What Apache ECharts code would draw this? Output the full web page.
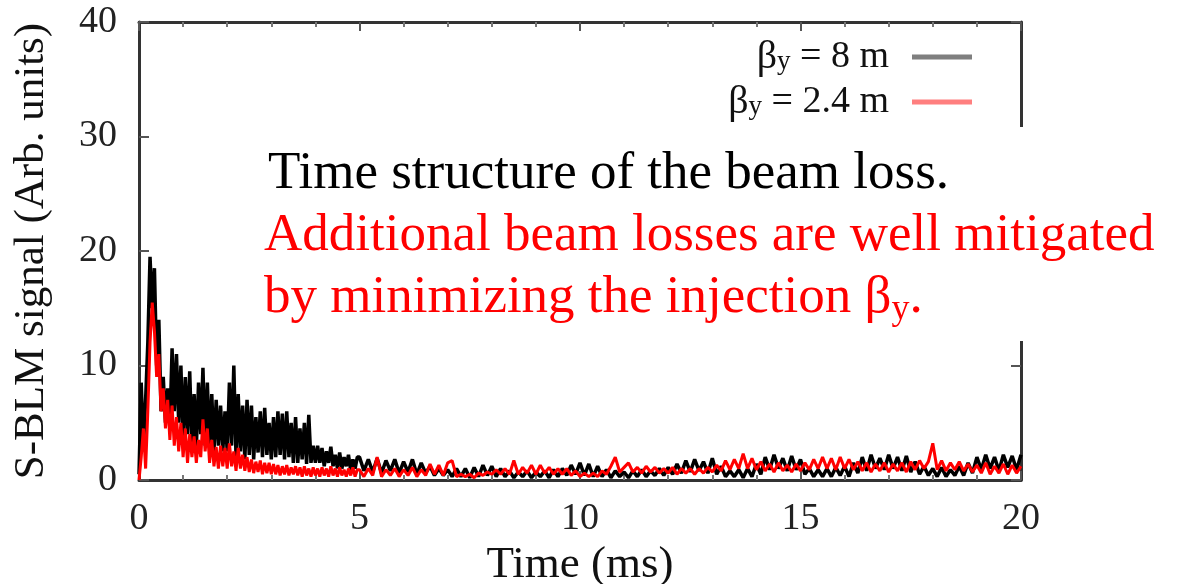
<!DOCTYPE html>
<html><head><meta charset="utf-8">
<script src="https://cdn.jsdelivr.net/npm/echarts@6/dist/echarts.min.js"></script>
<style>html,body{margin:0;padding:0;background:#fff}#c{width:1185px;height:584px}</style>
</head><body><div id="c"></div>
<script>
// ---- data ----
const earlyStep = 0.05;   // ms, samples at 0, 0.05, ... 4.95
const lateStart = 5.0;    // ms
const lateStep = 0.1;     // ms, samples at 5.0, 5.1, ... 20.0

const black8mEarly = [
 0.5,8.5,3,7,12,19.5,15,18.5,10,14,
 6,9,5,8,4.5,11.5,6,11,5,10,
 3.5,9,4,9.5,3,7.5,2.8,8.5,4,9.8,
 3,8.5,2.8,7.5,2.5,7,3,6.5,2.5,6,
 2.5,8.5,3,10,2,7.5,2.5,6.5,1.8,7,
 2.2,6.5,1.8,5.5,2.4,6,2,6.3,2.2,5,
 1.8,5.5,2,6,2.2,5.8,1.8,6,2,5,
 1.5,5.5,1.5,4.5,1.8,5,1.4,5.7,1.5,3,
 1.5,3,1.5,2.8,1.2,2.5,1.5,2.9,1.2,2.2,
 1,2.4,1,2,1.2,2.2,0.8,1.8,1,2
];
const red24mEarly = [
 0,2,4.5,1,6,12,15.5,13,9,11,
 6,8,4.5,7,3.5,6.5,3,5.5,2.5,5,
 2,4.5,1.5,4,2,3.8,1.5,3.5,2,5.3,
 2.5,4.5,1.5,3.5,1.2,2.9,1,3,1.2,2.8,
 1,3.2,1.2,2.5,0.8,2.8,1,2.2,0.8,2,
 0.7,1.8,0.6,1.6,0.7,1.7,0.5,1.5,0.6,1.5,
 0.5,1.4,0.5,1.3,0.4,1.2,0.5,1.3,0.4,1.1,
 0.5,1.2,0.4,1.1,0.3,1.2,0.4,1,0.3,1.1,
 0.4,1,0.3,1.1,0.4,1,0.3,1.2,0.4,1,
 0.3,1.1,0.4,0.9,0.3,1,0.4,1.1,0.3,0.9
];
const black8mLate = [
 2.0,0.8,1.8,0.7,1.9,0.6,1.7,0.8,1.8,0.6,
 1.6,0.7,1.8,0.5,1.5,0.6,1.2,0.4,1.0,0.4,
 0.9,0.3,1.0,0.3,1.0,0.2,1.1,0.3,1.3,0.4,
 1.2,0.3,1.0,0.3,0.8,0.2,0.7,0.3,0.8,0.2,
 0.7,0.3,0.8,0.2,0.9,0.3,1.0,0.4,1.3,0.5,
 1.5,0.4,1.4,0.3,1.2,0.3,0.9,0.2,0.8,0.3,
 0.7,0.2,0.8,0.3,0.9,0.3,0.8,0.4,1.0,0.4,
 1.1,0.5,1.4,0.6,1.7,0.7,1.8,0.8,1.6,0.6,
 1.9,0.5,1.2,0.3,0.8,0.3,0.9,0.2,1.0,0.3,
 1.4,0.5,2.0,0.9,2.2,1.0,1.9,0.8,2.1,0.9,
 1.8,0.5,1.0,0.3,0.9,0.3,1.0,0.3,1.1,0.4,
 1.2,0.3,1.5,0.6,2.0,0.8,2.2,1.0,1.9,0.9,
 2.2,1.0,2.0,0.8,2.1,0.7,1.6,0.5,1.2,0.4,
 1.0,0.3,1.1,0.3,0.9,0.4,1.2,0.4,1.5,0.6,
 2.0,0.9,2.2,1.0,2.0,0.8,2.2,1.1,2.1,0.9,
 2.2
];
const red24mLate = [
 0.9,0.3,1.0,0.4,2.0,0.3,0.9,0.4,1.0,0.3,
 0.9,0.4,1.1,0.3,0.9,0.4,1.4,0.5,1.3,0.4,
 1.5,1.7,0.3,0.5,0.3,0.5,0.2,0.6,0.4,0.7,
 0.5,0.9,0.5,1.0,0.5,1.7,0.5,1.1,0.6,1.3,
 0.5,1.3,0.6,1.1,0.5,1.0,0.5,1.0,0.4,0.8,
 0.3,0.6,0.3,0.6,0.3,0.8,0.5,1.2,2.0,0.7,
 1.1,1.5,0.7,1.1,0.6,1.2,0.7,1.1,0.6,1.0,
 0.6,1.1,0.5,1.0,0.6,1.0,0.5,1.0,0.6,1.1,
 0.7,1.3,0.8,1.7,0.9,1.8,1.0,2.3,1.0,1.9,
 0.9,1.6,0.8,1.4,0.7,1.5,0.8,1.3,0.7,1.4,
 0.8,1.5,0.9,1.8,1.0,2.0,1.0,1.9,0.9,2.0,
 1.0,1.8,0.9,1.6,0.8,1.5,0.7,1.4,0.8,1.5,
 0.7,1.4,0.8,1.5,0.7,1.6,0.9,1.7,1.0,1.6,
 3.2,0.9,1.7,0.8,1.5,0.9,1.6,0.8,1.4,0.7,
 1.3,0.6,1.5,0.5,1.2,0.6,1.4,0.5,1.3,0.6,
 1.2
];
const xTicks = [0, 5, 10, 15, 20];
const yTicks = [0, 10, 20, 30, 40];
const seriesNames = ['βy = 8 m', 'βy = 2.4 m'];
const legendValues = ['8 m', '2.4 m'];
const seriesColors = ['#000000', '#ff0000'];
const legendColors = ['#7f7f7f', '#ff7f7f'];
const xTitle = 'Time (ms)';
const yTitle = 'S-BLM signal (Arb. units)';
const noteLine1 = 'Time structure of the beam loss.';
const noteLine2 = 'Additional beam losses are well mitigated';
const noteLine3 = 'by minimizing the injection β';

// ---- build series data ----
function toPairs(early, late) {
  const out = [];
  early.forEach((v, i) => out.push([+(i * earlyStep).toFixed(3), v]));
  late.forEach((v, i) => out.push([+(lateStart + i * lateStep).toFixed(3), v]));
  return out;
}
const blackData = toPairs(black8mEarly, black8mLate);
const redData = toPairs(red24mEarly, red24mLate);

const SERIF = '"Liberation Serif", "DejaVu Serif", serif';
const axisCol = '#333333';
const labelStyle = { fontFamily: SERIF, fontSize: 38, color: '#222' };

const chart = echarts.init(document.getElementById('c'), null, { renderer: 'canvas' });
const baseX = {
  type: 'value', min: xTicks[0], max: xTicks[xTicks.length - 1], interval: 5,
  splitLine: { show: false },
  axisLine: { show: true, onZero: false, lineStyle: { color: axisCol, width: 3 } },
  axisTick: { show: true, inside: true, length: 9, lineStyle: { color: '#555', width: 2 } },
  minorTick: { show: true, splitNumber: 5, length: 5, lineStyle: { color: '#777', width: 2 } }
};
const baseY = {
  type: 'value', min: yTicks[0], max: yTicks[yTicks.length - 1], interval: 10,
  splitLine: { show: false },
  axisLine: { show: true, onZero: false, lineStyle: { color: axisCol, width: 3 } },
  axisTick: { show: true, inside: true, length: 10, lineStyle: { color: '#555', width: 2 } }
};

chart.setOption({
  animation: false,
  backgroundColor: '#ffffff',
  grid: { left: 139, right: 164, top: 22, bottom: 104, containLabel: false, outerBoundsMode: 'none' },
  xAxis: [
    Object.assign({}, baseX, {
      position: 'bottom',
      axisLabel: Object.assign({ margin: 20 }, labelStyle),
      name: xTitle, nameLocation: 'middle', nameGap: 62,
      nameTextStyle: { fontFamily: SERIF, fontSize: 45, color: '#111' }
    }),
    Object.assign({}, baseX, { position: 'top', axisLabel: { show: false } })
  ],
  yAxis: [
    Object.assign({}, baseY, {
      position: 'left',
      axisLabel: Object.assign({ margin: 22 }, labelStyle),
      name: yTitle, nameLocation: 'middle', nameGap: 86, nameRotate: 90,
      nameTextStyle: { fontFamily: SERIF, fontSize: 43, color: '#111' }
    }),
    Object.assign({}, baseY, { position: 'right', axisLabel: { show: false } })
  ],
  legend: {
    orient: 'vertical', right: 208, top: 32, align: 'right',
    itemWidth: 60, itemHeight: 5, itemGap: 5,
    data: seriesNames.map((n, i) => ({ name: n, icon: 'rect', itemStyle: { color: legendColors[i] } })),
    formatter: name => '{g|β}{s|y}{t| = ' + legendValues[seriesNames.indexOf(name)] + '}',
    textStyle: {
      padding: [0, 18, 0, 0],
      rich: {
        g: { fontFamily: SERIF, fontSize: 40, color: '#111', lineHeight: 36, verticalAlign: 'middle' },
        s: { fontFamily: SERIF, fontSize: 27, color: '#111', lineHeight: 12, verticalAlign: 'bottom' },
        t: { fontFamily: SERIF, fontSize: 38, color: '#111', lineHeight: 36, verticalAlign: 'middle' }
      }
    }
  },
  series: [
    { name: seriesNames[0], type: 'line', data: blackData, showSymbol: false, symbol: 'none',
      lineStyle: { color: seriesColors[0], width: 3.5 }, itemStyle: { color: seriesColors[0] }, z: 2 },
    { name: seriesNames[1], type: 'line', data: redData, showSymbol: false, symbol: 'none',
      lineStyle: { color: seriesColors[1], width: 3 }, itemStyle: { color: seriesColors[1] }, z: 3 }
  ],
  graphic: [
    { type: 'rect', z: 100, shape: { x: 250, y: 127, width: 935, height: 214 }, style: { fill: '#ffffff' } },
    { type: 'text', z: 101, x: 268, y: 174,
      style: { text: noteLine1, font: '53px ' + SERIF, fill: '#000', verticalAlign: 'middle' } },
    { type: 'text', z: 101, x: 264, y: 236,
      style: { text: noteLine2, font: '53px ' + SERIF, fill: '#ff0000', verticalAlign: 'middle' } },
    { type: 'text', z: 101, x: 264, y: 298,
      style: {
        text: '{m|' + noteLine3 + '}{s|y}{m|.}', verticalAlign: 'middle',
        rich: {
          m: { font: '53px ' + SERIF, fill: '#ff0000', lineHeight: 60, verticalAlign: 'middle' },
          s: { font: '36px ' + SERIF, fill: '#ff0000', lineHeight: 22, verticalAlign: 'bottom' }
        }
      } }
  ]
});
</script></body></html>
